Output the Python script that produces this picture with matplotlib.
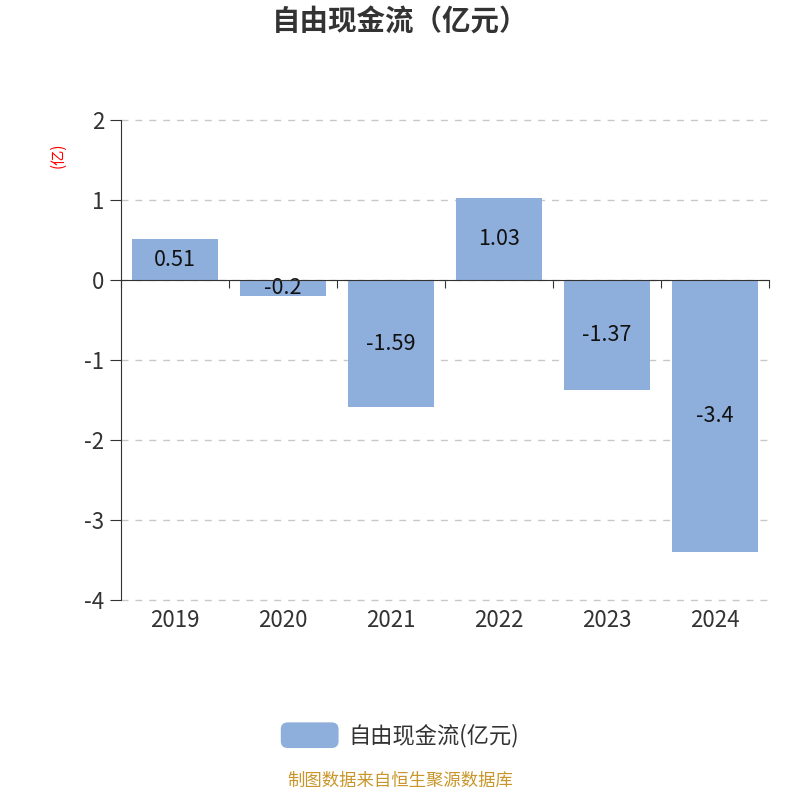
import matplotlib
matplotlib.use("Agg")
import matplotlib.pyplot as plt
import matplotlib.transforms as mtransforms
from matplotlib.patches import FancyBboxPatch
from matplotlib.legend_handler import HandlerPatch

plt.rcParams['font.family'] = ['Noto Sans CJK SC', 'DejaVu Sans']
plt.rcParams['axes.unicode_minus'] = False

years = ['2019', '2020', '2021', '2022', '2023', '2024']
values = [0.51, -0.2, -1.59, 1.03, -1.37, -3.4]
labels = ['0.51', '-0.2', '-1.59', '1.03', '-1.37', '-3.4']
yticks = [2, 1, 0, -1, -2, -3, -4]

bar_color = '#8eaedb'
text_color = '#333333'


class RoundHandler(HandlerPatch):
    def create_artists(self, legend, orig_handle, xdescent, ydescent,
                       width, height, fontsize, trans):
        p = FancyBboxPatch((-xdescent, -ydescent), width, height,
                           boxstyle='round,pad=0,rounding_size=5',
                           facecolor=orig_handle.get_facecolor(),
                           edgecolor='none', transform=trans)
        return [p]


fig = plt.figure(figsize=(8, 8), dpi=100)
ax = fig.add_axes([0.151, 0.25, 0.81, 0.60])

x = range(len(years))
bars = ax.bar(x, values, width=0.8, color=bar_color, zorder=2, label='自由现金流(亿元)')

for xi, v, lab in zip(x, values, labels):
    ax.text(xi, v / 2, lab, ha='center', va='center', fontsize=15.5, color='#111111', zorder=3)

ax.set_xlim(-0.5, len(years) - 0.5)
ax.set_ylim(-4, 2)
ax.set_yticks(yticks)
ax.set_yticklabels([str(t) for t in yticks], fontsize=16, color=text_color)
ax.yaxis.grid(True, linestyle=(0, (5, 5)), color='#c8c8c8', linewidth=1, zorder=0)
for gl in ax.get_ygridlines():
    gl.set_clip_on(False)

for s in ['top', 'right']:
    ax.spines[s].set_visible(False)
ax.spines['left'].set_color(text_color)
ax.spines['bottom'].set_position(('data', 0))
ax.spines['bottom'].set_color(text_color)
ax.spines['bottom'].set_zorder(4)

ax.set_xticks([i + 0.5 for i in range(-1, len(years))])
ax.set_xticklabels([])
ax.tick_params(axis='x', direction='out', length=6, color=text_color)
ax.tick_params(axis='y', direction='out', length=8, color=text_color, pad=4)

trans = mtransforms.blended_transform_factory(ax.transData, ax.transAxes)
for xi, yr in zip(x, years):
    ax.text(xi, -0.043, yr, transform=trans, ha='center', va='center', fontsize=16, color=text_color)

fig.text(0.072, 0.806, '(亿)', rotation=90, color='red', fontsize=11, ha='center', va='center')

fig.text(0.5, 0.972, '自由现金流（亿元）', ha='center', va='center', fontsize=20.5,
         fontweight='bold', color=text_color)

fig.legend(handles=[bars.patches[0]], labels=['自由现金流(亿元)'],
           handler_map={bars.patches[0]: RoundHandler()},
           loc='center', bbox_to_anchor=(0.5, 0.081), frameon=False, fontsize=16,
           handlelength=2.6, handleheight=1.4, handletextpad=0.45, labelcolor=text_color)

fig.text(0.5, 0.024, '制图数据来自恒生聚源数据库', ha='center', va='center', fontsize=12.5,
         color='#c8962a')

fig.savefig('out.png', dpi=100)
